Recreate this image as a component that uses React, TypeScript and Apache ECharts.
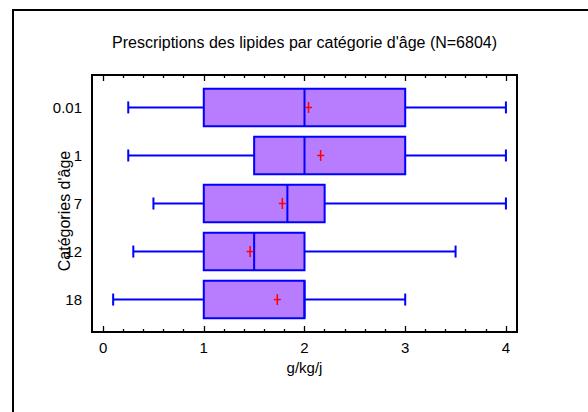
import { useEffect, useRef } from 'react';
import * as echarts from 'echarts';

const categories = ['0.01', '1', '7', '12', '18'];
const mins = [0.25, 0.25, 0.5, 0.3, 0.1];
const q1s = [1, 1.5, 1, 1, 1];
const medians = [2, 2, 1.83, 1.5, 2];
const q3s = [3, 3, 2.2, 2, 2];
const maxs = [4, 4, 4, 3.5, 3];
const means = [2.04, 2.16, 1.78, 1.46, 1.73];

const xMajorTicks = [0, 1, 2, 3, 4];
const xMinorTicks = [0.2, 0.4, 0.6, 0.8, 1.2, 1.4, 1.6, 1.8, 2.2, 2.4, 2.6, 2.8, 3.2, 3.4, 3.6, 3.8];
const yPositions = [0, 1, 2, 3, 4];

const titleText = "Prescriptions des lipides par catégorie d'âge (N=6804)";
const xName = 'g/kg/j';
const yName = "Catégories d'âge";

const FONT = "'Liberation Sans', Arial, sans-serif";
const BLUE = '#0000ff';
const PURPLE = '#b87cff';
const RED = '#ff0000';

export default function App() {
  const ref = useRef<HTMLDivElement>(null);
  useEffect(() => {
    if (!ref.current) return;
    const chart = echarts.init(ref.current, null, { renderer: 'svg' });
    const X_MIN = -0.11;
    const X_MAX = 4.11;
    const grid = { left: 92, top: 75, width: 425, height: 257, show: true, borderColor: '#000', borderWidth: 2, backgroundColor: 'transparent' };
    const baseX = {
      type: 'value',
      gridIndex: 0,
      min: X_MIN,
      max: X_MAX,
      splitLine: { show: false },
      axisLine: { show: false, onZero: false },
    };
    const data = categories.map((_, i) => [i, mins[i], q1s[i], medians[i], q3s[i], maxs[i], means[i]]);
    chart.setOption({
      animation: false,
      backgroundColor: '#fff',
      grid,
      graphic: [
        { type: 'rect', shape: { x: 13, y: 10, width: 600, height: 420 }, style: { fill: 'none', stroke: '#000', lineWidth: 2 } },
        { type: 'text', x: 304.5, y: 42.5, style: { text: titleText, font: `16px ${FONT}`, fill: '#000', align: 'center', verticalAlign: 'middle' } },
        { type: 'text', x: 64.5, y: 211, rotation: Math.PI / 2, style: { text: yName, font: `16px ${FONT}`, fill: '#000', align: 'center', verticalAlign: 'middle' } },
      ],
      xAxis: [
        {
          ...baseX,
          position: 'bottom',
          name: xName,
          nameLocation: 'middle',
          nameGap: 28,
          nameTextStyle: { fontFamily: FONT, fontSize: 15, color: '#000' },
          axisTick: { show: true, inside: true, length: 6, customValues: xMajorTicks, lineStyle: { color: '#000', width: 1.3 } },
          axisLabel: { show: true, customValues: xMajorTicks, fontFamily: FONT, fontSize: 15, color: '#000', margin: 8 },
        },
        {
          ...baseX,
          position: 'bottom',
          axisTick: { show: true, inside: true, length: 3, customValues: xMinorTicks, lineStyle: { color: '#000', width: 1.3 } },
          axisLabel: { show: false },
        },
        {
          ...baseX,
          position: 'top',
          axisTick: { show: true, inside: true, length: 6, customValues: xMajorTicks, lineStyle: { color: '#000', width: 1.3 } },
          axisLabel: { show: false },
        },
        {
          ...baseX,
          position: 'top',
          axisTick: { show: true, inside: true, length: 3, customValues: xMinorTicks, lineStyle: { color: '#000', width: 1.3 } },
          axisLabel: { show: false },
        },
      ],
      yAxis: [
        {
          type: 'value',
          gridIndex: 0,
          inverse: true,
          min: -0.675,
          max: 4.675,
          position: 'left',
          splitLine: { show: false },
          axisLine: { show: false, onZero: false },
          axisTick: { show: false },
          axisLabel: {
            show: true,
            customValues: yPositions,
            formatter: (v: number) => categories[Math.round(v)] ?? '',
            fontFamily: FONT,
            fontSize: 15,
            color: '#000',
            margin: 10,
          },
        },
      ],
      series: [
        {
          type: 'custom',
          xAxisIndex: 0,
          yAxisIndex: 0,
          data,
          encode: { x: [1, 2, 3, 4, 5, 6], y: 0 },
          renderItem: (_params: any, api: any) => {
            const row = api.value(0);
            const lo = api.coord([api.value(1), row]);
            const b1 = api.coord([api.value(2), row]);
            const md = api.coord([api.value(3), row]);
            const b3 = api.coord([api.value(4), row]);
            const hi = api.coord([api.value(5), row]);
            const mn = api.coord([api.value(6), row]);
            const boxH = api.size([0, 0.78])[1];
            const capH = api.size([0, 0.25])[1];
            const cy = lo[1];
            const ls = { stroke: BLUE, lineWidth: 2, fill: 'none' };
            const rs = { stroke: RED, lineWidth: 1.5, fill: 'none' };
            return {
              type: 'group',
              children: [
                { type: 'line', shape: { x1: lo[0], y1: cy, x2: b1[0], y2: cy }, style: ls },
                { type: 'line', shape: { x1: b3[0], y1: cy, x2: hi[0], y2: cy }, style: ls },
                { type: 'line', shape: { x1: lo[0], y1: cy - capH / 2, x2: lo[0], y2: cy + capH / 2 }, style: ls },
                { type: 'line', shape: { x1: hi[0], y1: cy - capH / 2, x2: hi[0], y2: cy + capH / 2 }, style: ls },
                { type: 'rect', shape: { x: b1[0], y: cy - boxH / 2, width: b3[0] - b1[0], height: boxH }, style: { fill: PURPLE, stroke: BLUE, lineWidth: 2 } },
                { type: 'line', shape: { x1: md[0], y1: cy - boxH / 2, x2: md[0], y2: cy + boxH / 2 }, style: ls },
                { type: 'line', shape: { x1: mn[0] - 3.5, y1: mn[1], x2: mn[0] + 3.5, y2: mn[1] }, style: rs },
                { type: 'line', shape: { x1: mn[0], y1: mn[1] - 5.5, x2: mn[0], y2: mn[1] + 5.5 }, style: rs },
              ],
            };
          },
        },
      ],
    });
    return () => chart.dispose();
  }, []);
  return <div ref={ref} style={{ position: 'fixed', left: 0, top: 0, width: 588, height: 412 }} />;
}
